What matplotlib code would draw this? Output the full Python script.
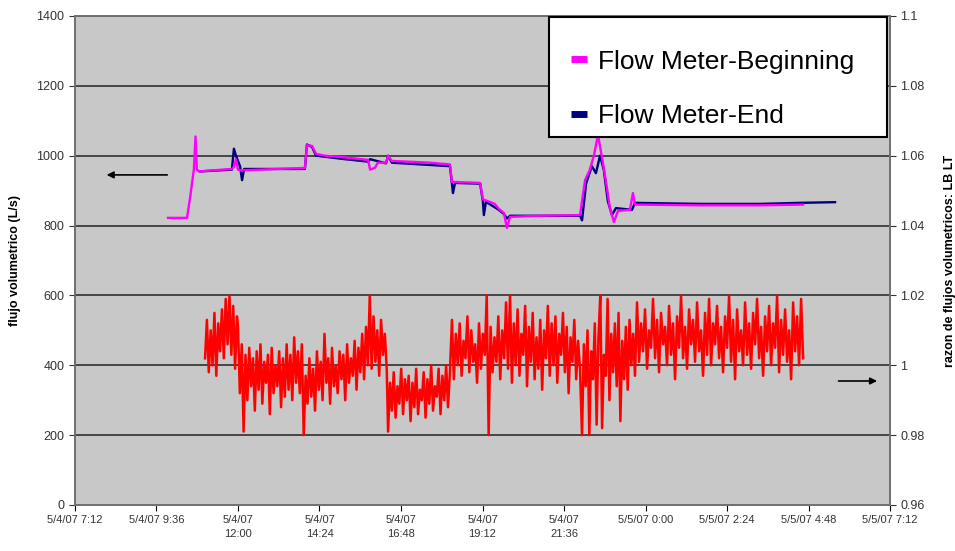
import numpy as np
import matplotlib
matplotlib.use("Agg")
import matplotlib.pyplot as plt
from matplotlib.lines import Line2D
from matplotlib.patches import Rectangle
from matplotlib.ticker import FuncFormatter

plt.rcParams['font.family'] = ['Liberation Sans', 'DejaVu Sans']

# time in hours since 5/4/07 0:00
tick_hours = [7.2 + 2.4 * k for k in range(11)]
tick_labels = ["5/4/07 7:12", "5/4/07 9:36", "5/4/07\n12:00", "5/4/07\n14:24",
               "5/4/07\n16:48", "5/4/07\n19:12", "5/4/07\n21:36", "5/5/07 0:00",
               "5/5/07 2:24", "5/5/07 4:48", "5/5/07 7:12"]

# Flow Meter-Beginning (L/s)
beg_t = [9.94, 10.50, 10.59, 10.70, 10.75, 10.79, 10.85, 11.82, 11.88, 11.94, 12.00,
         12.09, 13.97, 14.03, 14.18, 14.30, 14.56, 15.15, 15.83, 15.89, 16.03, 16.12,
         16.36, 16.42, 16.53, 17.65, 18.24, 18.30, 19.13, 19.21, 19.41, 19.56, 19.68,
         19.83, 19.92, 20.01, 20.89, 22.07, 22.22, 22.36, 22.48, 22.60, 22.71, 22.83,
         22.95, 23.07, 23.19, 23.54, 23.63, 23.69, 25.60, 27.37, 28.64]
beg_q = [822, 822, 880, 960, 1055, 960, 955, 962, 968, 990, 960,
         958, 965, 1030, 1028, 1005, 1000, 995, 988, 960, 965, 980,
         980, 1000, 985, 980, 975, 925, 922, 875, 868, 862, 848,
         836, 793, 825, 828, 830, 930, 960, 1000, 1060, 1000, 930,
         850, 810, 842, 845, 893, 860, 858, 858, 860]

# Flow Meter-End (L/s)
end_t = [10.88, 11.82, 11.88, 11.94, 12.06, 12.12, 12.18, 13.97, 14.03, 14.18, 14.30,
         15.15, 15.83, 15.89, 16.36, 16.42, 16.53, 18.24, 18.30, 18.33, 18.39, 19.13,
         19.21, 19.24, 19.30, 19.68, 19.83, 19.92, 20.01, 22.07, 22.13, 22.25, 22.42,
         22.54, 22.66, 22.77, 22.89, 23.01, 23.13, 23.60, 23.69, 25.60, 27.37, 28.55,
         29.58]
end_q = [955, 960, 1020, 1000, 970, 930, 962, 962, 1032, 1025, 1000,
         990, 983, 990, 978, 1000, 980, 970, 920, 893, 922, 920,
         870, 830, 868, 845, 833, 820, 828, 828, 815, 920, 970,
         950, 1000, 960, 870, 830, 850, 845, 865, 862, 862, 865,
         867]

# razon de flujos LB/LT, read in segments (start hour, end hour, values)
ratio_segments = [
    (11.03, 11.97, [1.002, 1.013, 0.998, 1.010, 1.000, 1.015, 0.997, 1.012, 1.004,
                    1.016, 1.002, 1.019, 1.006, 1.020, 1.003, 1.017, 0.999, 1.014]),
    (12.00, 13.82, [1.011, 0.992, 1.006, 0.981, 1.003, 0.990, 1.005, 0.994, 1.002,
                    0.987, 1.004, 0.993, 1.006, 0.989, 1.001, 0.995, 1.003, 0.986,
                    1.005, 0.992, 1.000, 0.994, 1.004, 0.988, 1.002, 0.991, 1.006,
                    0.993, 1.003, 0.990, 1.008, 0.995, 1.004, 0.992]),
    (13.88, 16.38, [1.006, 0.980, 0.997, 0.989, 1.002, 0.991, 0.999, 0.987, 1.004,
                    0.993, 1.001, 0.990, 1.009, 0.995, 1.002, 0.989, 1.005, 0.994,
                    1.000, 0.992, 1.004, 0.996, 1.003, 0.990, 1.006, 0.995, 1.002,
                    0.997, 1.007, 0.993, 1.005, 0.998, 1.009, 0.996, 1.011, 1.000,
                    1.020, 0.999, 1.014, 1.001, 1.010, 0.997, 1.013, 1.003, 1.009,
                    0.999]),
    (16.42, 18.24, [0.981, 0.995, 0.987, 0.998, 0.985, 0.994, 0.989, 0.999, 0.986,
                    0.996, 0.990, 0.997, 0.984, 0.995, 0.988, 0.999, 0.986, 0.993,
                    0.990, 0.998, 0.985, 0.996, 0.989, 1.000, 0.987, 0.994, 0.991,
                    0.999, 0.986, 0.997, 0.990, 1.000, 0.988, 0.998]),
    (18.30, 19.95, [1.013, 0.996, 1.009, 1.000, 1.012, 0.997, 1.007, 1.002, 1.014,
                    0.998, 1.010, 1.001, 1.006, 0.995, 1.012, 0.999, 1.009, 1.003,
                    1.020, 0.980, 1.011, 0.998, 1.008, 1.001, 1.014, 0.996, 1.010,
                    1.002, 1.018, 0.999]),
    (20.01, 22.07, [1.020, 0.995, 1.012, 1.000, 1.016, 0.997, 1.009, 1.003, 1.017,
                    0.994, 1.011, 1.001, 1.015, 0.996, 1.008, 0.999, 1.013, 0.993,
                    1.010, 1.002, 1.017, 0.997, 1.012, 1.000, 1.014, 0.995, 1.009,
                    1.003, 1.015, 0.998, 1.011, 0.992, 1.008, 1.001, 1.013, 0.996,
                    1.007, 0.999]),
    (22.13, 23.69, [0.980, 1.006, 0.994, 1.010, 0.980, 1.004, 0.996, 1.012, 0.983,
                    1.008, 1.020, 0.982, 1.003, 0.997, 1.019, 0.990, 1.009, 0.998,
                    1.012, 0.994, 1.015, 0.984, 1.007, 0.996, 1.011, 0.993, 1.013,
                    1.000, 1.009, 0.997]),
    (23.75, 28.64, [1.018, 1.001, 1.012, 1.004, 1.016, 0.999, 1.010, 1.005, 1.019,
                    1.002, 1.013, 0.998, 1.015, 1.006, 1.011, 1.000, 1.017, 1.003,
                    1.012, 0.996, 1.014, 1.005, 1.020, 1.002, 1.011, 0.999, 1.016,
                    1.006, 1.013, 1.001, 1.018, 1.004, 1.010, 0.997, 1.015, 1.003,
                    1.019, 1.000, 1.012, 1.006, 1.017, 1.002, 1.011, 0.998, 1.014,
                    1.005, 1.020, 1.001, 1.013, 0.996, 1.016, 1.004, 1.010, 1.000,
                    1.018, 1.003, 1.012, 0.999, 1.015, 1.006, 1.019, 1.002, 1.011,
                    0.997, 1.014, 1.004, 1.017, 1.000, 1.012, 1.005, 1.020, 0.998,
                    1.013, 1.003, 1.016, 1.001, 1.010, 0.996, 1.018, 1.004, 1.014,
                    1.000, 1.019, 1.002]),
]

ratio_t = []
ratio_v = []
for t0, t1, vals in ratio_segments:
    ratio_t += list(np.linspace(t0, t1, len(vals)))
    ratio_v += vals

bg = '#c8c8c8'

fig = plt.figure(figsize=(9.55, 5.51), dpi=100)
ax2 = fig.add_axes([0.0785, 0.0835, 0.8535, 0.8875])
ax2.set_facecolor(bg)
ax = ax2.twinx()  # left axis drawn on top of the ratio trace
ax.yaxis.tick_left()
ax.yaxis.set_label_position('left')
ax2.yaxis.tick_right()
ax2.yaxis.set_label_position('right')

ax.set_xlim(7.2, 31.2)
ax.set_ylim(0, 1400)
ax.set_yticks(range(0, 1401, 200))
ax2.set_ylim(0.96, 1.1)
ax2.set_yticks(np.arange(0.96, 1.1001, 0.02))
ax2.yaxis.set_major_formatter(FuncFormatter(lambda v, p: f"{v:g}"))

# grid lines for the left scale, under the traces
for g in range(200, 1401, 200):
    ax2.axhline(0.96 + g / 1400 * 0.14, color='#303030', linewidth=1.2, zorder=1)

ax2.set_xticks(tick_hours)
ax2.set_xticklabels(tick_labels, fontsize=8, color='#333333', linespacing=1.4)
ax2.tick_params(axis='x', length=4)
ax.tick_params(axis='y', labelsize=9, colors='#333333', length=4)
ax2.tick_params(axis='y', labelsize=9, colors='#333333', length=4)

for a in (ax, ax2):
    for s in a.spines.values():
        s.set_color('#707070')
        s.set_linewidth(1.2)

ax2.plot(ratio_t, ratio_v, color='#ff0000', linewidth=1.8, zorder=2)
ax.plot(end_t, end_q, color='#000080', linewidth=1.7, zorder=3)
ax.plot(beg_t, beg_q, color='#ff00ff', linewidth=1.7, zorder=4)

ax.set_ylabel("flujo volumetrico (L/s)", fontsize=9, fontweight='bold', labelpad=11)
ax2.set_ylabel("razon de flujos volumetricos: LB LT", fontsize=9, fontweight='bold',
               labelpad=14)

ax.annotate("", xy=(8.05, 945), xytext=(10.0, 945),
            arrowprops=dict(arrowstyle='-|>', color='black', lw=1.2, mutation_scale=10))
ax.annotate("", xy=(30.9, 355), xytext=(29.6, 355),
            arrowprops=dict(arrowstyle='-|>', color='black', lw=1.2, mutation_scale=10))

# legend box (white, black border) and its entries
ax.add_patch(Rectangle((0.5816, 0.7526), 0.4147, 0.2454, transform=ax.transAxes,
                       facecolor='white', edgecolor='black', linewidth=1.5,
                       zorder=6, clip_on=False))
handles = [Line2D([], [], color='#ff00ff', linestyle='none', marker='_',
                  markersize=12, markeredgewidth=5),
           Line2D([], [], color='#000080', linestyle='none', marker='_',
                  markersize=12, markeredgewidth=5)]
leg = ax.legend(handles, ["Flow Meter-Beginning", "Flow Meter-End"],
                loc='upper left', bbox_to_anchor=(0.5816, 0.0, 0.4147, 0.961),
                mode='expand', fontsize=19, frameon=False,
                handlelength=1.2, handletextpad=0.12, labelspacing=1.17,
                borderpad=0.55, borderaxespad=0.0)
leg.set_zorder(7)

fig.savefig("out.png", dpi=100)
